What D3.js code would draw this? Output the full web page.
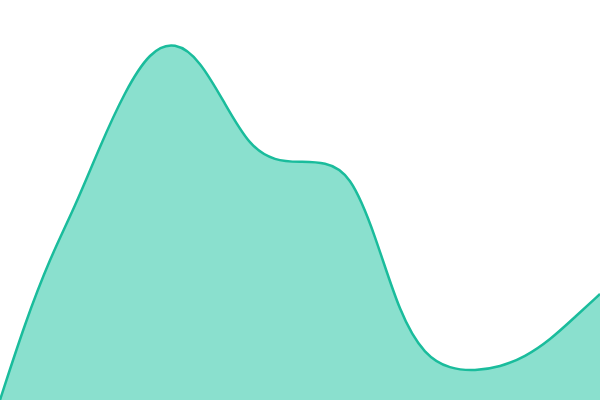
<!DOCTYPE html>
<html>
<head>
<meta charset="utf-8">
<script src="https://cdn.jsdelivr.net/npm/d3@7"></script>
<style>
html,body{margin:0;padding:0;background:#fff;}
svg{display:block;}
</style>
</head>
<body>
<svg id="chart" width="600" height="400"></svg>
<script>
const positions = [0,1,2,3,4,5,6,7,8,9,10,11,12,13,14,15,16,17,18,19,20,21,22,23,24];
const values = [0,77,142,193,254,309,349,359,340,296,253,239,238,238,227,166,85,44,31,29,33,43,60,83,106];

const width = 600, height = 400;
const svg = d3.select("#chart");
const x = d3.scaleLinear().domain([0, positions.length - 1]).range([0, width]);
const y = d3.scaleLinear().domain([0, 400]).range([height, 0]);

const data = positions.map((p, i) => ({p, v: values[i]}));

const area = d3.area()
  .x(d => x(d.p))
  .y0(height)
  .y1(d => y(d.v))
  .curve(d3.curveBasis);

const line = d3.line()
  .x(d => x(d.p))
  .y(d => y(d.v))
  .curve(d3.curveBasis);

svg.append("path").datum(data)
  .attr("d", area)
  .attr("fill", "#8ae0ce");

svg.append("path").datum(data)
  .attr("d", line)
  .attr("fill", "none")
  .attr("stroke", "#1abc9c")
  .attr("stroke-width", 2.5);
</script>
</body>
</html>
